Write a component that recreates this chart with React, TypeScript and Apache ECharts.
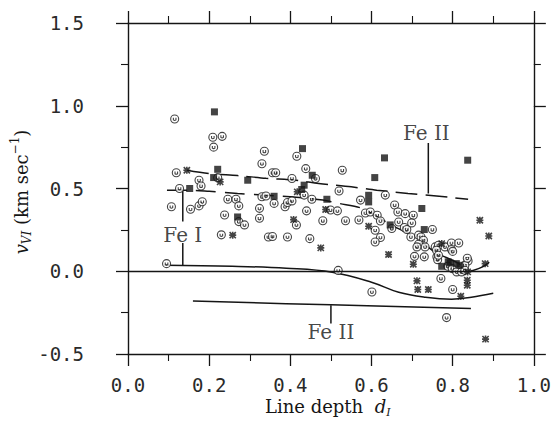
import React, { useEffect, useRef } from "react";
import * as echarts from "echarts";

// ---- data (x = line depth d_I, y = v_VI km/s) ----
const openCircles: number[][] = [
  [0.115, 0.92], [0.209, 0.81], [0.232, 0.815], [0.211, 0.75], [0.336, 0.725], [0.33, 0.65],
  [0.416, 0.695], [0.119, 0.595], [0.221, 0.565], [0.175, 0.55], [0.18, 0.515], [0.127, 0.5],
  [0.356, 0.595], [0.364, 0.595], [0.404, 0.56], [0.438, 0.62], [0.462, 0.56], [0.107, 0.39],
  [0.154, 0.375], [0.175, 0.395], [0.183, 0.42], [0.246, 0.435], [0.266, 0.435], [0.273, 0.395],
  [0.238, 0.34], [0.324, 0.38], [0.324, 0.32], [0.33, 0.45], [0.34, 0.455], [0.36, 0.41],
  [0.387, 0.39], [0.393, 0.415], [0.404, 0.425], [0.434, 0.46], [0.44, 0.365], [0.453, 0.435],
  [0.273, 0.3], [0.287, 0.28], [0.415, 0.28], [0.23, 0.22], [0.346, 0.207], [0.356, 0.21],
  [0.393, 0.207], [0.448, 0.197], [0.095, 0.046],
  [0.528, 0.61], [0.52, 0.485], [0.634, 0.46], [0.499, 0.37], [0.516, 0.365], [0.48, 0.305],
  [0.536, 0.305], [0.573, 0.43], [0.569, 0.31], [0.585, 0.352], [0.597, 0.358], [0.614, 0.338],
  [0.622, 0.304], [0.609, 0.248], [0.622, 0.204], [0.609, 0.177], [0.518, 0.005],
  [0.657, 0.4], [0.665, 0.358], [0.683, 0.348], [0.703, 0.338], [0.65, 0.258], [0.667, 0.298],
  [0.681, 0.264], [0.687, 0.252], [0.699, 0.292], [0.75, 0.252], [0.697, 0.207], [0.716, 0.218],
  [0.722, 0.207], [0.728, 0.187], [0.716, 0.163], [0.732, 0.147], [0.712, 0.147], [0.706, 0.09],
  [0.73, 0.087], [0.757, 0.147], [0.765, 0.157], [0.781, 0.147], [0.761, 0.087], [0.763, 0.07],
  [0.797, 0.171], [0.815, 0.171], [0.797, 0.131], [0.838, 0.062], [0.83, 0.036], [0.788, 0.03],
  [0.799, 0.016], [0.81, -0.004], [0.822, -0.004], [0.83, 0.006], [0.771, -0.044], [0.8, -0.11],
  [0.601, -0.125], [0.785, -0.28], [0.76, 0.127], [0.765, 0.097], [0.836, 0.079], [0.8, 0.12]
];

const filledSquares: number[][] = [
  [0.213, 0.963], [0.43, 0.741], [0.221, 0.616], [0.211, 0.566], [0.295, 0.55], [0.454, 0.58],
  [0.434, 0.52], [0.152, 0.5], [0.36, 0.453], [0.428, 0.494], [0.27, 0.328], [0.632, 0.685],
  [0.608, 0.566], [0.837, 0.671], [0.593, 0.459], [0.593, 0.419], [0.724, 0.379], [0.73, 0.252],
  [0.773, 0.03], [0.789, 0.057], [0.794, 0.05], [0.809, 0.046], [0.818, 0.036], [0.646, 0.28],
  [0.49, 0.435]
];

const stars: number[][] = [
  [0.145, 0.61], [0.227, 0.54], [0.417, 0.48], [0.408, 0.312], [0.258, 0.218], [0.487, 0.373],
  [0.475, 0.141], [0.593, 0.272], [0.867, 0.308], [0.889, 0.213], [0.642, 0.101], [0.703, 0.042],
  [0.773, 0.167], [0.712, -0.058], [0.714, -0.11], [0.74, -0.11], [0.836, -0.054], [0.836, -0.085],
  [0.82, -0.151], [0.88, 0.046], [0.881, -0.41], [0.837, -0.004]
];

const feIIUpperCurve: number[][] = [
  [0.145, 0.61], [0.2, 0.59], [0.27, 0.578], [0.34, 0.562], [0.414, 0.55], [0.47, 0.53],
  [0.55, 0.51], [0.613, 0.49], [0.69, 0.47], [0.76, 0.455], [0.838, 0.435]
];

const feIDashedCurve: number[][] = [
  [0.096, 0.49], [0.15, 0.49], [0.2, 0.483], [0.27, 0.47], [0.336, 0.46], [0.414, 0.447],
  [0.48, 0.43], [0.52, 0.41], [0.576, 0.38], [0.65, 0.278], [0.708, 0.205], [0.757, 0.115],
  [0.814, 0.048], [0.835, 0.0]
];

const feIHook: number[][] = [[0.825, -0.005], [0.85, 0.005], [0.875, 0.028], [0.89, 0.055]];

const feISolidCurve: number[][] = [
  [0.09, 0.036], [0.257, 0.03], [0.39, 0.018], [0.503, -0.006], [0.6, -0.066], [0.667, -0.127],
  [0.733, -0.157], [0.797, -0.169], [0.846, -0.157], [0.9, -0.133]
];

const feIISolidCurve: number[][] = [[0.16, -0.18], [0.5, -0.203], [0.845, -0.225]];

const leaderLines: number[][][] = [
  [[0.74, 0.775], [0.74, 0.47]],
  [[0.135, 0.3], [0.135, 0.49]],
  [[0.135, 0.17], [0.135, 0.036]],
  [[0.5, -0.205], [0.5, -0.315]]
];

const annotations: { name: string; value: number[] }[] = [
  { name: "Fe II", value: [0.735, 0.835] },
  { name: "Fe I", value: [0.135, 0.218] },
  { name: "Fe II", value: [0.5, -0.37] }
];

const xTicks = { min: 0, max: 1, interval: 0.2 };
const yTicks = { min: -0.5, max: 1.5, interval: 0.5 };

const INK = "#151515";
const MONO = "DejaVu Sans Mono";
const SERIF = "DejaVu Serif";

const circleSym = "path://M0,-5A5,5,0,1,1,0,5A5,5,0,1,1,0,-5Z M-1.6,-1.5L-1.6,1.2Q0,2.6,1.6,1.2L1.6,-1.5";
const starSym = "path://M-4,-4L4,4M-4,4L4,-4M-4.5,0L4.5,0M0,-4.5L0,4.5";

export default function App() {
  const ref = useRef<HTMLDivElement>(null);
  useEffect(() => {
    if (!ref.current) return;
    const chart = echarts.init(ref.current, null, { renderer: "svg" });
    const axisLine = { show: true, onZero: false, lineStyle: { color: INK, width: 1.4 } };
    const tick = { show: true, inside: false, length: 12, lineStyle: { color: INK, width: 1.3 } };
    const minor = { show: true, splitNumber: 2, length: 7, lineStyle: { color: INK, width: 1.1 } };
    const lbl = {
      fontFamily: MONO, fontSize: 19, color: "#2a2a2a",
      formatter: (v: number) => v.toFixed(1)
    };
    const lineSeries = (data: number[][], type: any, smooth: any) => ({
      type: "line", data, showSymbol: false, symbol: "none", smooth, silent: true,
      lineStyle: { color: INK, width: 1.5, type }, z: 3
    });
    const option: any = {
      animation: false,
      grid: { left: 128, right: 18, top: 23, bottom: 76 },
      xAxis: [
        { type: "value", ...xTicks, position: "bottom", axisLine, axisTick: tick, minorTick: minor,
          splitLine: { show: false }, axisLabel: { ...lbl, margin: 21 } },
        { type: "value", ...xTicks, position: "top", axisLine, axisTick: tick, minorTick: minor,
          splitLine: { show: false }, axisLabel: { show: false } }
      ],
      yAxis: [
        { type: "value", ...yTicks, position: "left", axisLine, axisTick: tick, minorTick: minor,
          splitLine: { show: false }, axisLabel: { ...lbl, margin: 44 } },
        { type: "value", ...yTicks, position: "right", axisLine, axisTick: tick, minorTick: minor,
          splitLine: { show: false }, axisLabel: { show: false } }
      ],
      series: [
        {
          ...lineSeries(feIIUpperCurve, [22, 8], 0.3),
          markLine: {
            silent: true, symbol: "none", label: { show: false },
            lineStyle: { color: INK, width: 1.4, type: "solid" },
            data: [{ yAxis: 0 }]
          }
        },
        lineSeries(feIDashedCurve, [20, 9], 0.3),
        lineSeries(feIHook, "solid", 0.4),
        lineSeries(feISolidCurve, "solid", 0.4),
        lineSeries(feIISolidCurve, "solid", 0.4),
        ...leaderLines.map((d) => lineSeries(d, "solid", false)),
        {
          type: "scatter", data: openCircles, symbol: circleSym, symbolSize: 8, z: 4,
          itemStyle: { color: "#ffffff", borderColor: INK, borderWidth: 1.1 }
        },
        {
          type: "scatter", data: filledSquares, symbol: "rect", symbolSize: 7, z: 5,
          itemStyle: { color: INK }
        },
        {
          type: "scatter", data: stars, symbol: starSym, symbolSize: 7, z: 5,
          itemStyle: { color: "transparent", borderColor: INK, borderWidth: 1.6 }
        },
        {
          type: "scatter", data: annotations, symbol: "circle", symbolSize: 1, z: 6,
          itemStyle: { color: "transparent" },
          label: {
            show: true, position: "inside", formatter: (p: any) => p.name,
            fontFamily: SERIF, fontSize: 20, color: INK
          }
        }
      ],
      graphic: [
        {
          type: "text", left: 265, top: 395,
          style: {
            text: "Line depth  {i|d}{sub|I}",
            fontFamily: SERIF, fontSize: 18, fill: INK, lineHeight: 23,
            rich: {
              i: { fontFamily: SERIF, fontStyle: "italic", fontSize: 18, lineHeight: 23 },
              sub: { fontFamily: SERIF, fontStyle: "italic", fontSize: 11, lineHeight: 11, verticalAlign: "bottom" }
            }
          }
        },
        {
          type: "text", x: 21, y: 192, rotation: Math.PI / 2,
          style: {
            text: "{i|v}{sub|VI} (km sec{sup|−1})",
            fontFamily: SERIF, fontSize: 18, fill: INK, lineHeight: 24,
            align: "center", verticalAlign: "middle",
            rich: {
              i: { fontFamily: SERIF, fontStyle: "italic", fontSize: 18, lineHeight: 24 },
              sub: { fontFamily: SERIF, fontStyle: "italic", fontSize: 12, lineHeight: 12, verticalAlign: "bottom" },
              sup: { fontFamily: SERIF, fontSize: 12, lineHeight: 12, verticalAlign: "top" }
            }
          }
        }
      ]
    };
    chart.setOption(option);
    return () => chart.dispose();
  }, []);
  return (
    <div
      ref={ref}
      style={{ position: "absolute", left: 0, top: 0, width: 554, height: 430, overflow: "visible" }}
    />
  );
}
